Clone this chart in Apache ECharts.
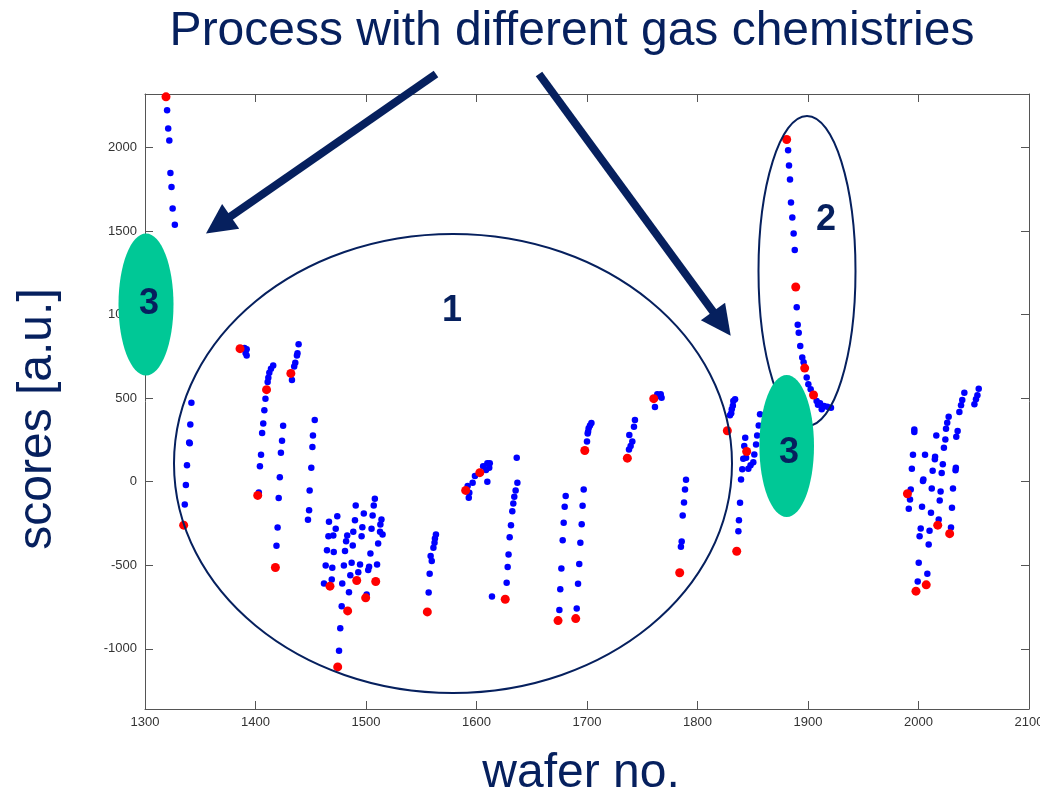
<!DOCTYPE html>
<html>
<head>
<meta charset="utf-8">
<script src="https://cdn.jsdelivr.net/npm/echarts@6/dist/echarts.min.js"></script>
<style>
html,body{margin:0;padding:0;background:#fff;}
#chart{width:1040px;height:792px;}
</style>
</head>
<body>
<div id="chart"></div>
<script>
// ---- data (wafer no., score) ----
const titleText = 'Process with different gas chemistries';
const xAxisTitle = 'wafer no.';
const yAxisTitle = 'scores [a.u.]';
const xTicks = [1300,1400,1500,1600,1700,1800,1900,2000,2100];
const yTicks = [-1000,-500,0,500,1000,1500,2000];

const blueScores = [
  [1320,2223],[1321,2114],[1322,2042],[1323,1848],[1324,1764],[1325,1635],[1327,1537],
  [1342,473],[1341,343],[1340,235],[1340.5,230],[1338,98],[1337,-20],[1336,-136],
  [1390,800],[1392,792],[1391,770],[1392,755],
  [1416,696],[1414,676],[1412.5,652],[1411.6,622],[1411,596],[1409,497],[1408,427],[1407,349],[1406,291],[1405,162],[1404,92],[1403,-65],
  [1425,335],[1424,245],[1423,174],[1422,26],[1421,-98],[1420,-274],[1419,-383],
  [1439,822],[1438,768],[1437.5,756],[1436,712],[1435,690],[1433,608],
  [1453.6,369],[1452,277],[1451.5,207],[1450.5,84],[1449,-52],[1448.5,-170],[1447.5,-228],
  [1508,-102],[1507,-142],[1490.7,-142],[1498,-190],[1506,-202],[1474,-206],[1490,-230],[1514,-226],[1513,-256],
  [1466.5,-240],[1472.6,-281],[1496.7,-272],[1505,-281],[1488.5,-299],[1512.7,-299],[1466,-326],[1470.4,-322],
  [1483,-322],[1496,-326],[1515,-316],[1482,-356],[1488,-381],[1511,-369],[1464.7,-410],[1470.8,-421],[1481,-415],
  [1504,-429],[1463.5,-501],[1469.5,-515],[1480,-501],[1487,-485],[1494.6,-495],[1502.8,-509],[1510,-495],
  [1502,-529],[1493,-541],[1485.8,-559],[1469,-585],[1462,-609],[1478.5,-609],[1484.6,-661],[1500.6,-675],
  [1478,-745],[1476.7,-877],[1475.6,-1012],
  [1563.3,-316],[1562.4,-340],[1562,-365],[1561,-395],[1558.5,-445],[1559.5,-475],[1557.6,-551],[1556.7,-663],
  [1593,-96],[1593.5,-66],[1592,-26],[1596.5,-6],[1598.6,34],[1606,93],[1609.8,110],[1612,110],[1611.5,84],[1608.6,70],[1609.8,0],
  [1636.4,144],[1637,-6],[1635.4,-52],[1634.2,-90],[1633.3,-130],[1632.4,-176],[1631.2,-260],[1630,-332],[1629,-435],[1628.2,-511],[1627.3,-605],[1614,-687],
  [1680.7,-86],[1679.8,-150],[1678.9,-246],[1678,-350],[1676.8,-519],[1675.8,-643],[1675,-767],
  [1697,-46],[1696,-144],[1695.2,-254],[1694,-365],[1693,-493],[1691.9,-611],[1690.7,-759],
  [1700,240],[1700.6,289],[1701,299],[1701.5,320],[1702.7,337],[1704,351],
  [1738,193],[1739.5,213],[1741,240],[1738.3,279],[1742.5,329],[1743.4,369],
  [1763.6,523],[1766.7,523],[1767.5,503],[1765,513],[1761.5,447],
  [1789.6,12],[1788.7,-46],[1787.8,-124],[1786.6,-202],[1785.7,-357],[1785,-389],
  [1829.4,397],[1830.5,410],[1831,433],[1832,455],[1832.4,483],[1834,493],
  [1837,-296],[1837.5,-230],[1838.5,-126],[1839.4,14],[1840.5,74],[1841.4,138],[1842.3,213],[1843.2,263],[1846,78],[1848,98],
  [1850.5,117],[1851.4,163],[1853,223],[1854,277],[1855.4,337],[1856.6,403],[1844,144],
  [1882,1984],[1882.8,1892],[1883.7,1808],[1884.6,1671],[1885.8,1581],[1887,1485],[1888,1387],[1889.8,1044],[1890.7,940],
  [1891.6,892],[1893,812],[1894.8,743],[1896,715],[1898.8,623],[1900.3,583],[1902.4,553],[1907.8,483],[1909,460],[1910.9,469],
  [1912.4,433],[1914.5,453],[1917.5,449],[1920.8,443],
  [2054.5,557],[2053.3,517],[2052,493],[2050.6,463],[2041.5,533],[2039.6,489],[2038.5,457],[2037,417],[2027.3,389],[2026,353],
  [2024.9,317],[2035.4,303],[2034.2,269],[2016.1,277],[2024.3,253],[2023,204],[1996.2,313],[1996.2,297],[1995,162],[2005.9,162],
  [2015,150],[2014.8,134],[2022,104],[2033.8,84],[2033.5,68],[1994,78],[2012.8,66],[2021,52],[2004.4,14],[2004,4],[2031.2,-40],
  [2012,-40],[2020,-58],[1993,-46],[1992.3,-106],[1991.2,-162],[2003.2,-150],[2019.2,-112],[2011.3,-186],[2030.3,-156],
  [2018.3,-226],[2029.4,-274],[2002,-280],[2010,-294],[2001,-326],[2009.2,-375],[2000.2,-485],[2008,-551],[1999.3,-597]
];

const redScores = [
  [1319,2303],[1335,-260],[1386,796],[1410,551],[1402,-82],[1418,-513],[1432,648],
  [1467.4,-625],[1491.6,-591],[1508.8,-597],[1499.7,-695],[1483.4,-773],[1474.4,-1108],
  [1555.5,-779],[1590.2,-52],[1603,54],[1626,-703],[1673.8,-831],[1689.8,-819],
  [1698,187],[1736.5,141],[1760.4,497],[1783.9,-545],[1827,305],[1835.5,-416],[1844.5,181],
  [1880.7,2048],[1888.9,1165],[1897,680],[1905,519],
  [1990,-72],[2017.4,-260],[2028.2,-311],[2007,-617],[1997.7,-655]
];

const navy = '#06205e';
const green = '#00c896';
const font = 'Liberation Sans, Arial, sans-serif';

function arrow(x1, y1, x2, y2, headLen, headHalf, width) {
  const dx = x2 - x1, dy = y2 - y1, L = Math.sqrt(dx*dx + dy*dy);
  const ux = dx / L, uy = dy / L, nx = -uy, ny = ux;
  const bx = x2 - ux * headLen, by = y2 - uy * headLen;
  return [
    { type: 'line', z: 100, shape: { x1: x1, y1: y1, x2: bx + ux*2, y2: by + uy*2 },
      style: { stroke: navy, lineWidth: width } },
    { type: 'polygon', z: 100, shape: { points: [[x2, y2], [bx + nx*headHalf, by + ny*headHalf], [bx - nx*headHalf, by - ny*headHalf]] },
      style: { fill: navy } }
  ];
}

const chart = echarts.init(document.getElementById('chart'), null, { renderer: 'canvas' });

const axisLineStyle = { color: '#555', width: 1 };
const labelStyle = { color: '#333', fontSize: 13, fontFamily: font, formatter: function (v) { return String(v); } };

const option = {
  backgroundColor: '#fff',
  animation: false,
  grid: { left: 145, top: 94, width: 884, height: 615, containLabel: false, outerBoundsMode: 'none' },
  xAxis: [
    { type: 'value', min: 1300, max: 2100, interval: 100, position: 'bottom',
      axisLine: { show: true, onZero: false, lineStyle: axisLineStyle },
      axisTick: { show: true, inside: true, length: 8, lineStyle: axisLineStyle },
      axisLabel: { ...labelStyle, margin: 7, showMinLabel: true, showMaxLabel: true, hideOverlap: false },
      splitLine: { show: false } },
    { type: 'value', min: 1300, max: 2100, interval: 100, position: 'top',
      axisLine: { show: true, onZero: false, lineStyle: axisLineStyle },
      axisTick: { show: true, inside: true, length: 8, lineStyle: axisLineStyle },
      axisLabel: { show: false }, splitLine: { show: false } }
  ],
  yAxis: [
    { type: 'value', min: -1360, max: 2320, position: 'left',
      axisLine: { show: true, onZero: false, lineStyle: axisLineStyle },
      axisTick: { show: true, inside: true, length: 8, lineStyle: axisLineStyle, customValues: yTicks },
      axisLabel: { ...labelStyle, margin: 8, customValues: yTicks },
      splitLine: { show: false } },
    { type: 'value', min: -1360, max: 2320, position: 'right',
      axisLine: { show: true, onZero: false, lineStyle: axisLineStyle },
      axisTick: { show: true, inside: true, length: 8, lineStyle: axisLineStyle, customValues: yTicks },
      axisLabel: { show: false }, splitLine: { show: false } }
  ],
  series: [
    { type: 'scatter', name: 'scores', data: blueScores, symbol: 'circle', symbolSize: 6.5,
      itemStyle: { color: '#0000ff', opacity: 1 }, z: 2 },
    { type: 'scatter', name: 'reference', data: redScores, symbol: 'circle', symbolSize: 9,
      itemStyle: { color: '#ff0000', opacity: 1 }, z: 3 }
  ],
  graphic: [
    { type: 'text', z: 100, x: 572, y: 32, style: { text: titleText, fill: navy, fontSize: 48,
      fontFamily: font, align: 'center', verticalAlign: 'middle' } },
    { type: 'text', z: 100, x: 581, y: 774, style: { text: xAxisTitle, fill: navy, fontSize: 48,
      fontFamily: font, align: 'center', verticalAlign: 'middle' } },
    { type: 'text', z: 100, x: 38, y: 419, rotation: Math.PI / 2, style: { text: yAxisTitle, fill: navy, fontSize: 48,
      fontFamily: font, align: 'center', verticalAlign: 'middle' } },
    // ellipse 1
    { type: 'ellipse', z: 100, shape: { cx: 453, cy: 463.5, rx: 279, ry: 229.5 },
      style: { fill: 'none', stroke: navy, lineWidth: 2 } },
    { type: 'text', z: 101, x: 452, y: 311, style: { text: '1', fill: navy, fontSize: 36, fontWeight: 'bold',
      fontFamily: font, align: 'center', verticalAlign: 'middle' } },
    // ellipse 2
    { type: 'ellipse', z: 100, shape: { cx: 807, cy: 271, rx: 48.5, ry: 155 },
      style: { fill: 'none', stroke: navy, lineWidth: 2 } },
    { type: 'text', z: 101, x: 826, y: 220, style: { text: '2', fill: navy, fontSize: 36, fontWeight: 'bold',
      fontFamily: font, align: 'center', verticalAlign: 'middle' } },
    // green ellipses 3
    { type: 'ellipse', z: 102, shape: { cx: 146, cy: 304.5, rx: 27.5, ry: 71 }, style: { fill: green } },
    { type: 'text', z: 103, x: 149, y: 304, style: { text: '3', fill: navy, fontSize: 36, fontWeight: 'bold',
      fontFamily: font, align: 'center', verticalAlign: 'middle' } },
    { type: 'ellipse', z: 102, shape: { cx: 786.7, cy: 446, rx: 27.3, ry: 71 }, style: { fill: green } },
    { type: 'text', z: 103, x: 789, y: 453, style: { text: '3', fill: navy, fontSize: 36, fontWeight: 'bold',
      fontFamily: font, align: 'center', verticalAlign: 'middle' } },
    ...arrow(436, 74, 206, 233.5, 30, 15, 8),
    ...arrow(539, 74, 730.7, 335.7, 30, 15, 8)
  ]
};
chart.setOption(option);
</script>
</body>
</html>
